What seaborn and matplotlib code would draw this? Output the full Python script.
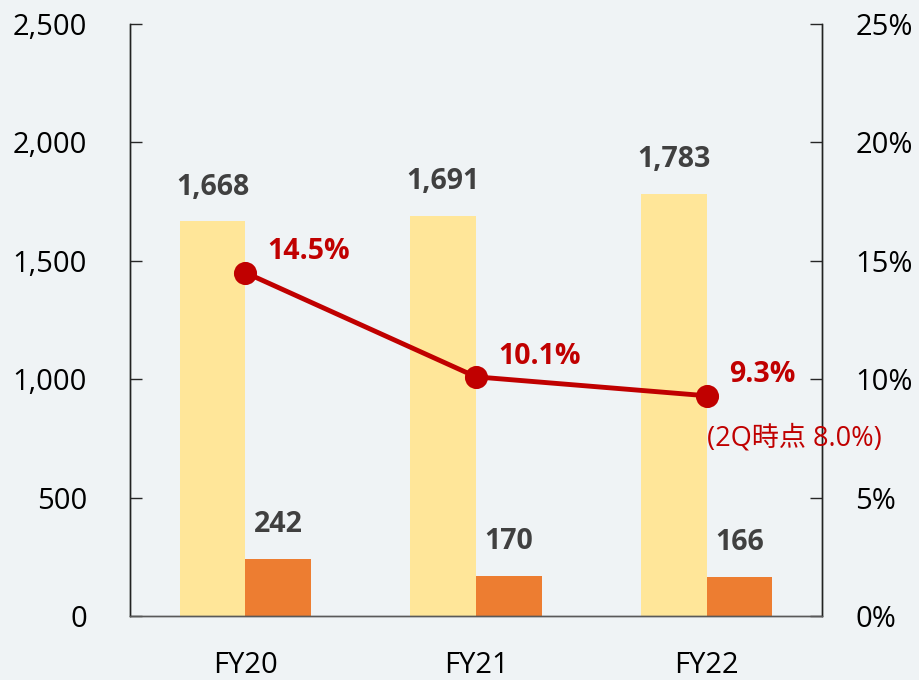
import matplotlib.pyplot as plt
import seaborn as sns
import pandas as pd

years = ['FY20', 'FY21', 'FY22']
total = [1668, 1691, 1783]
part = [242, 170, 166]
ratio = [14.5, 10.1, 9.3]
note = '(2Q時点 8.0%)'

bg = '#eff3f5'
red = '#c00000'

sns.set_theme(style='white')
plt.rcParams['font.family'] = ['Open Sans', 'Noto Sans CJK JP']

df = pd.DataFrame({
    '年度': years * 2,
    '値': total + part,
    '系列': ['総額'] * 3 + ['内数'] * 3,
})

fig = plt.figure(figsize=(9.19, 6.8), dpi=100, facecolor=bg)
ax = fig.add_axes([0.1415, 0.0941, 0.753, 0.8706])
ax.set_facecolor(bg)

sns.barplot(data=df, x='年度', y='値', hue='系列', palette=['#ffe699', '#ed7d31'],
            width=0.57, saturation=1, errorbar=None, legend=False, linewidth=0, ax=ax)
for c in ax.containers:
    ax.bar_label(c, fmt='{:,.0f}', padding=14, fontsize=20.5, fontweight='bold', color='#404040')

ax.set_ylim(0, 2500)
ax.set_yticks(range(0, 2501, 500))
ax.yaxis.set_major_formatter('{x:,.0f}')
ax.set_xlim(-0.5, 2.5)
ax.set_xlabel('')
ax.set_ylabel('')

ax2 = ax.twinx()
sns.pointplot(x=years, y=ratio, color=red, markersize=14, linewidth=3.5, ax=ax2)
ax2.set_ylim(0, 25)
ax2.set_yticks(range(0, 26, 5))
ax2.yaxis.set_major_formatter('{x:.0f}%')
ax2.set_xlim(-0.5, 2.5)
ax2.set_xlabel('')
ax2.set_ylabel('')

for i, v in enumerate(ratio):
    ax2.annotate(f'{v}%', (i, v), xytext=(16, 15), textcoords='offset points',
                 ha='left', va='center', fontsize=20.5, fontweight='bold', color=red)
ax2.annotate(note, (2, ratio[2]), xytext=(0, -31), textcoords='offset points',
             ha='left', va='center', fontsize=19.5, color=red)

ax.tick_params(axis='y', direction='in', length=8.5, width=1, pad=31, labelsize=21, labelcolor='black')
ax2.tick_params(axis='y', direction='in', length=8.5, width=1, pad=24, labelsize=21, labelcolor='black')
ax.tick_params(axis='x', which='major', length=0, pad=25, labelsize=21, labelcolor='black')
ax.set_xticks([0.5, 1.5], minor=True)
ax.tick_params(axis='x', which='minor', direction='in', length=7, width=1, color='#595959')

for a in (ax, ax2):
    a.spines['top'].set_visible(False)
    a.spines['left'].set_color('#222222')
    a.spines['right'].set_color('#222222')
    a.spines['bottom'].set_color('#595959')
    for s in a.spines.values():
        s.set_linewidth(1)

fig.savefig('out.png', dpi=100, facecolor=bg)
